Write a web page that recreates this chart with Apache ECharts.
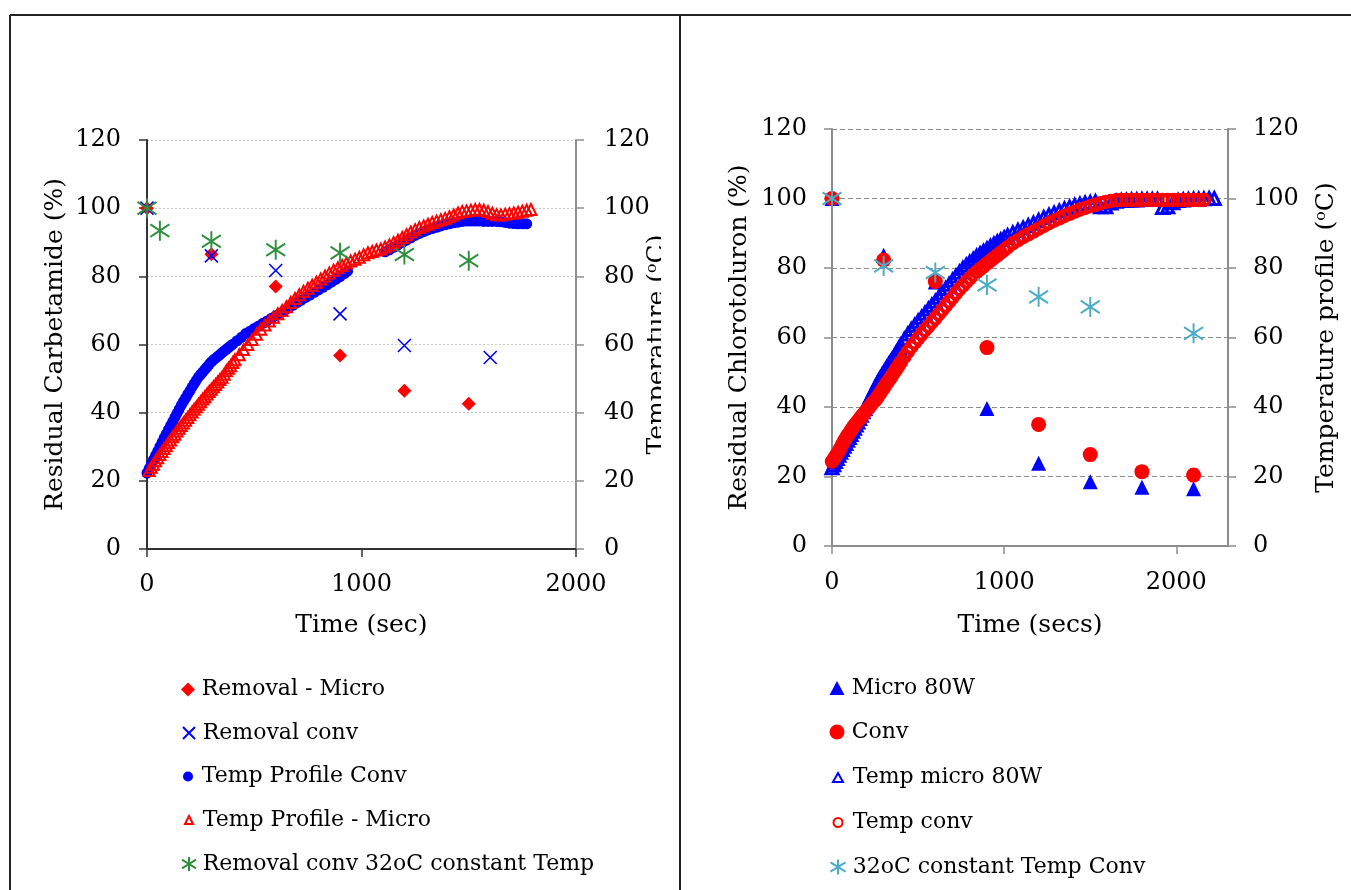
<!DOCTYPE html>
<html><head><meta charset="utf-8">
<script src="https://cdn.jsdelivr.net/npm/echarts@6/dist/echarts.min.js"></script>
<style>
html,body{margin:0;padding:0;background:#fff;width:1351px;height:890px;overflow:hidden;}
#a{position:absolute;left:0;top:0;width:661px;height:890px;}
#b{position:absolute;left:661px;top:0;width:690px;height:890px;}
</style></head><body>
<div id="a"></div><div id="b"></div>
<script>
// ---------------- LEFT CHART DATA (Carbetamide) ----------------
const leftXTicks = [0, 1000, 2000];
const leftRemovalMicro = [[0,100],[300,86.5],[600,77],[900,56.8],[1200,46.4],[1500,42.6]];
const leftRemovalConv = [[0,100],[300,86],[600,81.7],[900,69],[1200,59.7],[1600,56.2]];
const leftTempProfileConv = [
 [0,22.3],[10,23.6],[20,24.9],[30,26.2],[40,27.5],[50,28.7],[60,30],[70,31.3],[80,32.6],[90,33.8],
 [100,35],[110,36.2],[120,37.4],[130,38.6],[140,39.8],[150,41],[160,42.2],[170,43.3],[180,44.3],[190,45.4],
 [200,46.4],[210,47.5],[220,48.5],[230,49.5],[240,50.4],[250,51.2],[260,51.9],[270,52.7],[280,53.4],[290,54.2],
 [300,54.9],[310,55.5],[320,56],[330,56.5],[340,57],[350,57.6],[360,58.1],[370,58.6],[380,59.1],[390,59.6],
 [400,60.1],[420,61.1],[440,62.1],[460,63.2],[480,63.9],[500,64.7],[520,65.4],[540,66.2],[560,66.9],[580,67.7],
 [600,68.4],[620,69.2],[640,69.9],[660,70.7],[680,71.5],[700,72.3],[720,73],[740,73.8],[760,74.5],[780,75.3],
 [800,76],[820,76.8],[840,77.5],[860,78.3],[880,79.1],[900,79.9],[920,80.8],[935,81.5],
 [1110,87.2],[1130,87.8],[1150,88.5],[1170,89.2],[1190,89.9],[1210,90.6],[1230,91.3],[1250,92],[1270,92.6],
 [1290,93.1],[1310,93.6],[1330,94],[1350,94.4],[1370,94.8],[1390,95.1],[1410,95.4],[1430,95.7],[1450,95.9],
 [1470,96.1],[1490,96.2],[1510,96.2],[1530,96.2],[1550,96.2],[1570,96.1],[1590,96.1],[1610,96.1],[1630,96.1],
 [1650,96],[1670,95.8],[1690,95.6],[1710,95.5],[1730,95.4],[1750,95.4],[1770,95.4]
];
const leftTempProfileMicro = [
 [10,23],[20,24],[30,24.9],[40,25.9],[50,26.8],[60,27.7],[70,28.6],[80,29.5],[90,30.3],[100,31.2],
 [110,32],[120,32.9],[130,33.7],[140,34.6],[150,35.4],[160,36.2],[170,37],[180,37.8],[190,38.6],[200,39.4],
 [210,40.2],[220,41],[230,41.7],[240,42.5],[250,43.2],[260,44],[270,44.7],[280,45.5],[290,46.2],[300,46.9],
 [310,47.6],[320,48.3],[330,49],[340,49.7],[350,50.4],[360,51.3],[370,52.3],[380,53],[390,53.8],[400,54.7],
 [410,55.5],[430,57],[450,58.5],[470,60],[490,61.5],[510,63],[530,64.5],[550,65.7],[570,66.9],[590,68],
 [610,69],[630,70],[650,71.1],[670,72.3],[690,73.5],[710,74.6],[730,75.6],[750,76.5],[770,77.4],[790,78.3],
 [810,79.2],[830,80.1],[850,81],[870,81.8],[890,82.5],[910,83.2],[930,83.9],[950,84.5],[970,85],[990,85.6],
 [1010,86.3],[1030,86.9],[1050,87.3],[1070,87.7],[1090,88],[1110,88.6],[1130,89.2],[1150,89.9],[1170,90.6],
 [1190,91.4],[1210,92.2],[1230,93],[1250,93.7],[1270,94.3],[1290,94.8],[1310,95.3],[1330,95.8],[1350,96.2],
 [1370,96.6],[1390,97],[1410,97.5],[1430,98],[1450,98.6],[1470,99],[1490,99.2],[1510,99.4],[1530,99.6],
 [1550,99.6],[1570,99.4],[1590,99],[1610,98.5],[1630,98.1],[1650,98],[1670,98.2],[1690,98.4],[1710,98.6],
 [1730,98.8],[1750,99.1],[1770,99.4],[1790,99.6]
];
const leftRemovalConst32 = [[0,100],[60,93.4],[300,90.3],[600,87.8],[900,86.9],[1200,86.4],[1500,84.6]];

// ---------------- RIGHT CHART DATA (Chlorotoluron) ----------------
const rightXTicks = [0, 1000, 2000];
const rightMicro80W = [[0,100],[300,83.7],[600,76],[900,39.6],[1200,23.8],[1500,18.5],[1800,16.9],[2100,16.5]];
const rightConv = [[0,100],[300,82.3],[600,76.1],[900,57.1],[1200,35],[1500,26.3],[1800,21.4],[2100,20.4]];
const rightTempMicro80W = [
 [0,22.5],[10,23.4],[20,24.3],[30,25.2],[40,26.1],[50,27],[60,27.8],[70,28.7],[80,29.5],[90,30.4],
 [100,31.2],[110,32.1],[120,33],[130,33.9],[140,34.8],[150,35.7],[160,36.7],[170,37.6],[180,38.6],[190,39.6],
 [200,40.6],[210,41.6],[220,42.6],[230,43.6],[240,44.6],[250,45.6],[260,46.6],[270,47.5],[280,48.3],[290,49.1],
 [300,49.9],[310,50.7],[320,51.5],[330,52.3],[340,53],[350,53.8],[360,54.5],[370,55.4],[380,56.2],[390,57],
 [400,57.9],[420,59.5],[440,61],[460,62.3],[480,63.5],[500,64.7],[520,65.8],[540,67],[560,68.2],[580,69.3],
 [600,70.4],[620,71.6],[640,72.8],[660,74.1],[680,75.3],[700,76.5],[720,77.7],[740,78.8],[760,79.9],[780,80.8],
 [800,81.7],[820,82.5],[840,83.4],[860,84.1],[880,84.8],[900,85.5],[920,86.2],[940,86.9],[960,87.5],[980,88.1],
 [1000,88.7],[1020,89.3],[1050,90.1],[1080,90.8],[1110,91.5],[1140,92.2],
 [1170,92.9],[1200,93.7],[1230,94.5],[1260,95.2],[1290,95.8],[1320,96.4],[1350,97],[1380,97.5],[1410,98],
 [1440,98.4],[1470,98.7],[1500,98.9],[1530,99.1],[1560,97.6],[1590,97.6],[1620,98.7],[1650,99.2],[1680,99.4],
 [1710,99.5],[1740,99.6],[1770,99.6],[1800,99.7],[1830,99.7],[1860,99.7],[1890,99.7],[1920,97.4],[1950,97.6],
 [1980,98.8],[2010,99.4],[2040,99.6],[2070,99.7],[2100,99.8],[2130,99.8],[2160,99.9],[2190,100],[2220,100]
];
const rightTempConv = [
 [0,24.3],[10,25],[20,25.8],[30,26.6],[40,27.4],[50,28.3],[60,29.3],[70,30.2],[80,31],[90,31.8],
 [100,32.5],[110,33.3],[120,34],[130,34.7],[140,35.3],[150,35.9],[160,36.5],[170,37.2],[180,37.8],[190,38.4],
 [200,39],[210,39.6],[220,40.2],[230,40.8],[240,41.4],[250,41.9],[260,42.5],[270,43.3],[280,44],[290,44.8],
 [300,45.5],[310,46.3],[320,47],[330,47.7],[340,48.4],[350,49.2],[360,49.9],[370,50.7],[380,51.4],[390,52.2],
 [400,52.9],[420,54.4],[440,55.9],[460,57.3],[480,58.5],[500,59.7],[520,60.9],[540,62.1],[560,63.2],[580,64.4],
 [600,65.5],[620,66.7],[640,67.9],[660,69.1],[680,70.3],[700,71.5],[720,72.7],[740,73.9],[760,74.9],[780,76],
 [800,77],[820,78],[840,78.9],[860,79.7],[880,80.5],[900,81.3],[920,82.1],[940,82.9],[960,83.6],[980,84.4],
 [1000,85.2],[1020,86],[1050,87.1],[1080,88],[1110,88.9],[1140,89.7],
 [1170,90.5],[1200,91.3],[1230,92.1],[1260,92.9],[1290,93.6],[1320,94.3],[1350,95],[1380,95.6],[1410,96.2],
 [1440,96.8],[1470,97.3],[1500,97.8],[1530,98.2],[1560,98.6],[1590,99],[1620,99.3],[1650,99.5],[1680,99.6],
 [1710,99.6],[1740,99.6],[1770,99.6],[1800,99.6],[1830,99.6],[1860,99.6],[1890,99.6],[1920,99.6],[1950,99.6],
 [1980,99.6],[2010,99.6],[2040,99.6],[2070,99.6],[2100,99.6],[2130,99.6],[2160,99.6]
];
const rightConst32 = [[0,100],[300,80.6],[600,78.7],[900,75.1],[1200,71.7],[1500,68.8],[2100,61.2]];

// ---------------- STYLE ----------------
const FONT = 'DejaVu Serif';
const X_PATH = 'path://M0,0L10,10M10,0L0,10';
const STAR_PATH = 'path://M5,0L5,10M0,1.9L10,8.1M0,8.1L10,1.9';
const TR = 'rgba(0,0,0,0)';

function sc(name, data, symbol, size, fill, stroke, bw, yIdx) {
  return {
    type: 'scatter', name, data, symbol, symbolSize: size, yAxisIndex: yIdx || 0,
    clip: false, animation: false,
    itemStyle: { color: fill, borderColor: stroke, borderWidth: bw, opacity: 1 },
    emphasis: { disabled: true }
  };
}
function lg(name, cx, yc, w, h, textX) {
  const left = cx - w / 2;
  const pad = Math.max(0, textX - (cx + w / 2 + 5));
  return {
    data: [name], left, top: yc - 9.5, itemWidth: w, itemHeight: h,
    padding: 0, selectedMode: false, orient: 'vertical',
    textStyle: { fontFamily: FONT, fontSize: 22, color: '#000', padding: [0, 0, 0, pad] }
  };
}
function yAx(pos, name, gap, lineColor, split, margin) {
  return {
    type: 'value', position: pos, min: 0, max: 120, interval: 20,
    name, nameLocation: 'middle', nameGap: gap, nameMoveOverlap: false,
    nameTextStyle: { fontFamily: FONT, fontSize: 25, color: '#000' },
    axisLine: { show: true, lineStyle: { color: lineColor, width: 2 } },
    axisTick: { show: true, length: 8, lineStyle: { color: lineColor, width: 1.5 } },
    axisLabel: { fontFamily: FONT, fontSize: 24, color: '#000', margin },
    splitLine: split
  };
}
function xAx(max, ticks, name, gap, lineColor, margin) {
  return {
    type: 'value', min: 0, max, interval: 1000,
    name, nameLocation: 'middle', nameGap: gap, nameMoveOverlap: false,
    nameTextStyle: { fontFamily: FONT, fontSize: 25, color: '#000' },
    axisLine: { show: true, onZero: false, lineStyle: { color: lineColor, width: 2 } },
    axisTick: { show: true, length: 8, lineStyle: { color: lineColor, width: 1.5 } },
    axisLabel: { fontFamily: FONT, fontSize: 24, color: '#000', margin, showMaxLabel: max === ticks[ticks.length - 1],
      formatter: v => ticks.indexOf(v) >= 0 ? String(v) : '' },
    splitLine: { show: false }
  };
}

const RED = '#ff0000', BLUE = '#0000ff', GREEN = '#2f8f3f', CYAN = '#4bacc6';

// ---------------- LEFT CHART ----------------
const chartA = echarts.init(document.getElementById('a'), null, { renderer: 'canvas' });
chartA.setOption({
  animation: false,
  backgroundColor: '#fff',
  grid: { left: 147, top: 140, width: 429, height: 409, containLabel: false, outerBoundsMode: 'none' },
  xAxis: xAx(2000, leftXTicks, 'Time (sec)', 64, '#333', 24),
  yAxis: [
    yAx('left', 'Residual Carbetamide (%)', 79, '#333', { show: true, lineStyle: { color: '#c8c8c8', type: [2, 2], width: 1 } }, 26),
    yAx('right', 'Temperature (ᵒC)', 69, '#909090', { show: false }, 28)
  ],
  legend: [
    lg('Removal - Micro', 188, 688, 14, 14, 201.7),
    lg('Removal conv', 188, 731.5, 12, 12, 201.7),
    lg('Temp Profile Conv', 188, 775, 10, 10, 201.7),
    lg('Temp Profile - Micro', 188, 818.5, 8, 8, 201.7),
    lg('Removal conv 32oC constant Temp', 188, 862.5, 14, 15, 201.7)
  ],
  graphic: [
    { type: 'line', shape: { x1: 10, y1: 15, x2: 661, y2: 15 }, style: { stroke: '#222', lineWidth: 2 }, silent: true },
    { type: 'line', shape: { x1: 10, y1: 15, x2: 10, y2: 890 }, style: { stroke: '#222', lineWidth: 2 }, silent: true }
  ],
  series: [
    sc('Removal - Micro', leftRemovalMicro, 'diamond', 14, RED, RED, 0, 0),
    sc('Removal conv', leftRemovalConv, X_PATH, 13, TR, BLUE, 1.6, 0),
    sc('Temp Profile Conv', leftTempProfileConv, 'circle', 11, BLUE, BLUE, 0, 1),
    sc('Temp Profile - Micro', leftTempProfileMicro, 'triangle', 11, TR, RED, 2, 1),
    sc('Removal conv 32oC constant Temp', leftRemovalConst32, STAR_PATH, [19, 20], TR, GREEN, 2, 0)
  ]
});

// ---------------- RIGHT CHART ----------------
const chartB = echarts.init(document.getElementById('b'), null, { renderer: 'canvas' });
chartB.setOption({
  animation: false,
  backgroundColor: '#fff',
  grid: { left: 171, top: 129, width: 396, height: 417, containLabel: false, outerBoundsMode: 'none' },
  xAxis: xAx(2300, rightXTicks, 'Time (secs)', 67, '#8c8c8c', 25),
  yAxis: [
    yAx('left', 'Residual Chlorotoluron (%)', 80, '#8c8c8c', { show: true, lineStyle: { color: '#8c8c8c', type: [5, 3], width: 1 } }, 25),
    yAx('right', 'Temperature profile (ᵒC)', 86, '#8c8c8c', { show: false }, 25)
  ],
  legend: [
    lg('Micro 80W', 176, 686.5, 15, 14, 190.7),
    lg('Conv', 176, 730.5, 15, 15, 190.7),
    lg('Temp micro 80W', 176, 776, 10, 9, 190.7),
    lg('Temp conv', 176, 821, 9, 9, 190.7),
    lg('32oC constant Temp Conv', 176, 865.5, 15, 16, 190.7)
  ],
  graphic: [
    { type: 'line', shape: { x1: 0, y1: 15, x2: 690, y2: 15 }, style: { stroke: '#222', lineWidth: 2 }, silent: true },
    { type: 'line', shape: { x1: 19, y1: 15, x2: 19, y2: 890 }, style: { stroke: '#222', lineWidth: 2 }, silent: true }
  ],
  series: [
    sc('Micro 80W', rightMicro80W, 'triangle', 15, BLUE, BLUE, 0, 0),
    sc('Conv', rightConv, 'circle', 15, RED, RED, 0, 0),
    sc('Temp micro 80W', rightTempMicro80W, 'triangle', 12, TR, BLUE, 3, 1),
    sc('Temp conv', rightTempConv, 'circle', 11, TR, RED, 3.5, 1),
    sc('32oC constant Temp Conv', rightConst32, STAR_PATH, [19, 20], TR, CYAN, 2, 0)
  ]
});
</script>
</body></html>
